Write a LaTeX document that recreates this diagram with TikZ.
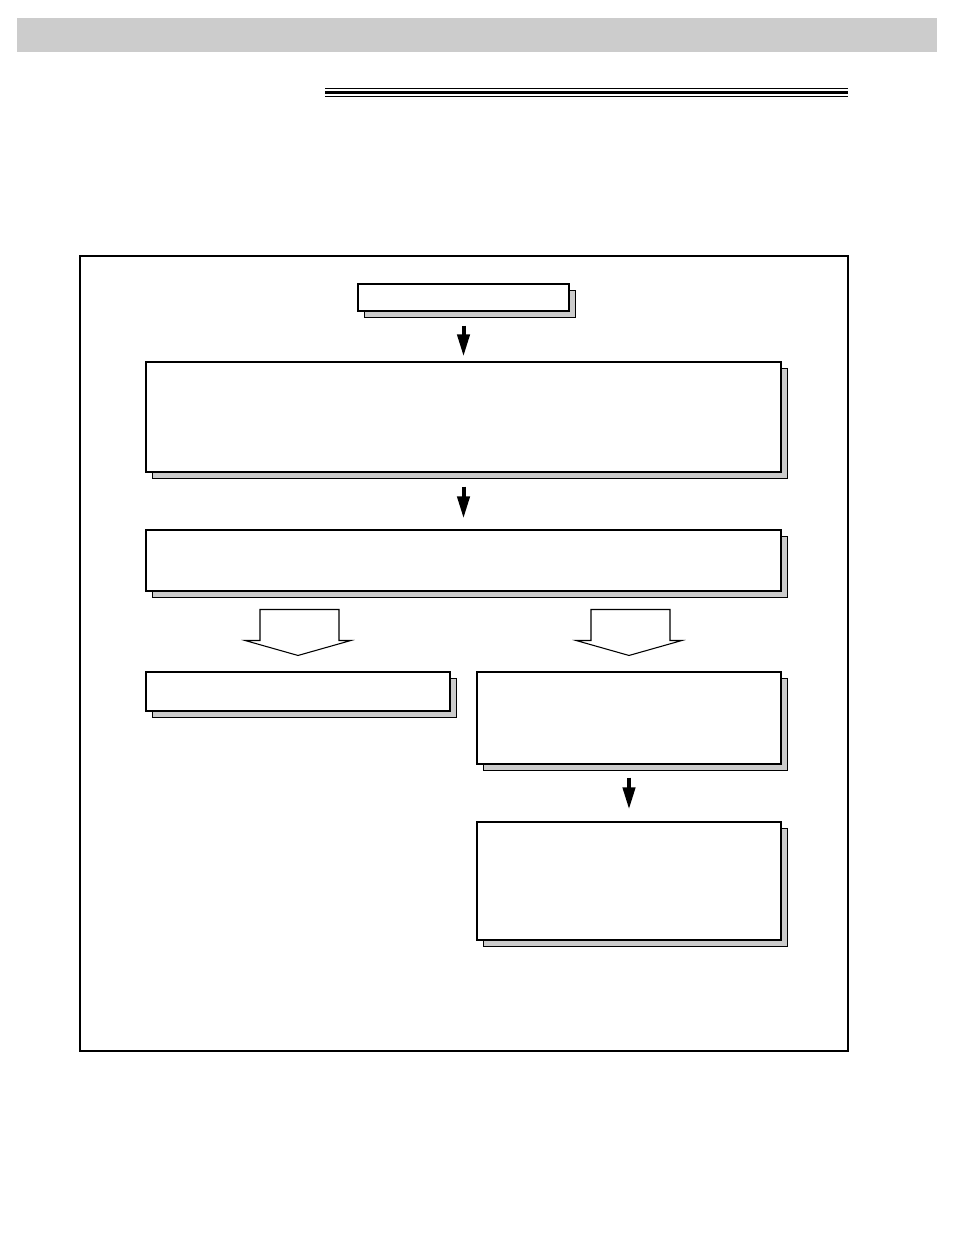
\documentclass[tikz,border=0pt]{standalone}
\usetikzlibrary{arrows.meta,shadows,fit,calc}
\definecolor{bargray}{RGB}{204,204,204}
\begin{document}
\begin{tikzpicture}[x=0.75pt,y=-0.75pt,
  flowbox/.style={draw=black, line width=0.8pt, fill=white, inner sep=0pt,
    drop shadow={shadow xshift=5.1pt, shadow yshift=-4.8pt, fill=bargray, draw=black, line width=0.8pt, opacity=1}},
  solidarrow/.style={line width=3pt, -{Triangle[length=16.5pt,width=9pt]}},
  hollowarrow/.style={draw=black, line width=0.8pt, fill=white, line join=miter}]
\useasboundingbox (0,0) rectangle (954,1235);
% top bar
\fill[bargray] (17,18) rectangle (937,52);
% triple rule
\draw[line width=0.75pt] (325,88.4) -- (848,88.4);
\draw[line width=2.25pt] (325,92.2) -- (848,92.2);
\draw[line width=0.75pt] (325,96.3) -- (848,96.3);
% outer frame
\draw[line width=0.8pt] (80,256) rectangle (848,1051);
% boxes
\node[flowbox, fit={(358,284) (569,311)}] (b1) {};
\node[flowbox, fit={(146,362) (781,472)}] (b2) {};
\node[flowbox, fit={(146,530) (781,591)}] (b3) {};
\node[flowbox, fit={(146,672) (450,711)}] (b4) {};
\node[flowbox, fit={(477,672) (781,764)}] (b5) {};
\node[flowbox, fit={(477,822) (781,940)}] (b6) {};
% solid arrows
\draw[solidarrow, shorten <=10.5pt, shorten >=3.75pt] (b1.south) -- (b2.north);
\draw[solidarrow, shorten <=10.5pt, shorten >=8.25pt] (b2.south) -- (b3.north);
\draw[solidarrow, shorten <=9.75pt, shorten >=9pt] (b5.south) -- (b6.north);
% hollow arrows
\foreach \t in {b4,b5}{
  \draw[hollowarrow] ($(\t.north)+(-38,-62)$) -- ($(\t.north)+(41,-62)$)
    -- ($(\t.north)+(41,-31)$) -- ($(\t.north)+(53,-31)$)
    -- ($(\t.north)+(0,-16)$) -- ($(\t.north)+(-53,-31)$)
    -- ($(\t.north)+(-38,-31)$) -- cycle;
}
\end{tikzpicture}
\end{document}
